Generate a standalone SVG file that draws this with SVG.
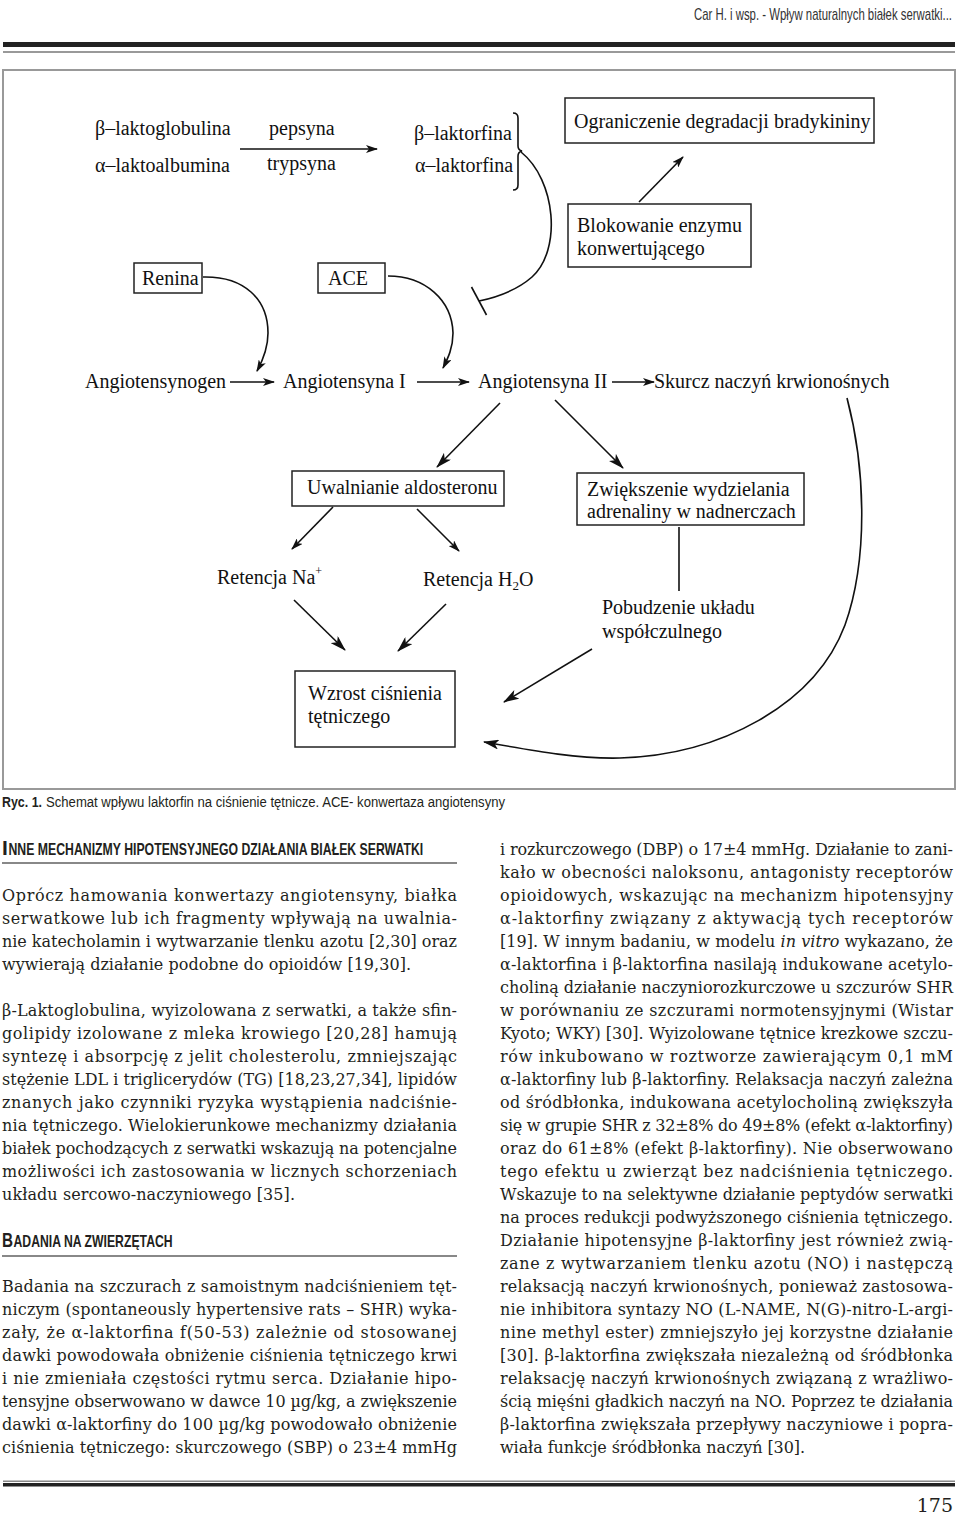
<svg xmlns="http://www.w3.org/2000/svg" width="960" height="1529" viewBox="0 0 960 1529">
<defs>
<style>
.hdr{font-family:"Liberation Sans",Arial,sans-serif;font-size:16px;fill:#333}
.d{font-family:"Liberation Serif","Times New Roman",serif;font-size:20px;fill:#111}
.box{fill:#fff;stroke:#222;stroke-width:1.5}
.ln{fill:none;stroke:#111;stroke-width:1.6}
.b{font-family:"DejaVu Serif",serif;font-size:16px;fill:#231f20}
.h{font-family:"Liberation Sans",Arial,sans-serif;font-weight:bold;fill:#231f20}
.cap{font-family:"Liberation Sans",Arial,sans-serif;font-size:15.5px;fill:#231f20}
</style>
<marker id="a" viewBox="0 0 12 8" refX="11" refY="4" markerWidth="12" markerHeight="8" markerUnits="userSpaceOnUse" orient="auto">
<path d="M0,0 L12,4 L0,8 L3,4 z" fill="#111"/>
</marker>
<marker id="aL" viewBox="0 0 16 10" refX="15" refY="5" markerWidth="16" markerHeight="10" markerUnits="userSpaceOnUse" orient="auto">
<path d="M0,0 L16,5 L0,10 L4,5 z" fill="#111"/>
</marker>
</defs>
<rect width="960" height="1529" fill="#fff"/>

<!-- page header -->
<g id="page-header">
<text class="hdr" transform="translate(952,20) scale(0.66,1)" x="0" y="0" text-anchor="end" textLength="391" lengthAdjust="spacingAndGlyphs">Car H. i wsp. - Wpływ naturalnych białek serwatki...</text>
<rect x="3" y="42" width="952" height="5" fill="#222"/>
<rect x="3" y="51" width="952" height="2" fill="#999"/>
</g>

<!-- diagram frame -->
<rect id="frame" x="3" y="70" width="952" height="719" fill="none" stroke="#999" stroke-width="2"/>

<g id="n-proteins"><text class="d" x="95" y="135">β–laktoglobulina</text><text class="d" x="95" y="172">α–laktoalbumina</text></g>
<g id="n-enzymes"><text class="d" x="269" y="135">pepsyna</text><text class="d" x="267" y="170">trypsyna</text></g>
<g id="n-laktorfiny"><text class="d" x="414" y="140">β–laktorfina</text><text class="d" x="415" y="172">α–laktorfina</text>
<path class="ln" stroke-width="1.3" d="M513,113 Q518,113 518,118 L518,146 Q518,150 522,151 Q518,152 518,156 L518,185 Q518,190 513,190"/></g>
<g id="n-ograniczenie"><rect class="box" x="565" y="98" width="309" height="45"/><text class="d" x="574" y="128">Ograniczenie degradacji bradykininy</text></g>
<g id="n-blokowanie"><rect class="box" x="568" y="204" width="183" height="63"/><text class="d" x="577" y="232">Blokowanie enzymu</text><text class="d" x="577" y="255">konwertującego</text></g>
<g id="n-renina"><rect class="box" x="134" y="263" width="68" height="30"/><text class="d" x="142" y="285">Renina</text></g>
<g id="n-ace"><rect class="box" x="318" y="263" width="67" height="30"/><text class="d" x="328" y="285">ACE</text></g>
<g id="n-angiotensynogen"><text class="d" x="85" y="388">Angiotensynogen</text></g>
<g id="n-angiotensyna1"><text class="d" x="283" y="388">Angiotensyna I</text></g>
<g id="n-angiotensyna2"><text class="d" x="478" y="388">Angiotensyna II</text></g>
<g id="n-skurcz"><text class="d" x="654" y="388">Skurcz naczyń krwionośnych</text></g>
<g id="n-uwalnianie"><rect class="box" x="292" y="471" width="212" height="35"/><text class="d" x="307" y="494">Uwalnianie aldosteronu</text></g>
<g id="n-zwiekszenie"><rect class="box" x="577" y="473" width="227" height="52"/><text class="d" x="587" y="496">Zwiększenie wydzielania</text><text class="d" x="587" y="518">adrenaliny w nadnerczach</text></g>
<g id="n-retencja-na"><text class="d" x="217" y="584">Retencja Na<tspan font-size="12" dy="-9">+</tspan></text></g>
<g id="n-retencja-h2o"><text class="d" x="423" y="586">Retencja H<tspan font-size="13" dy="4">2</tspan><tspan dy="-4">O</tspan></text></g>
<g id="n-pobudzenie"><text class="d" x="602" y="614">Pobudzenie układu</text><text class="d" x="602" y="638">współczulnego</text></g>
<g id="n-wzrost"><rect class="box" x="295" y="671" width="160" height="76"/><text class="d" x="308" y="700">Wzrost ciśnienia</text><text class="d" x="308" y="723">tętniczego</text></g>

<g id="connectors">
<line class="ln" x1="240" y1="149" x2="377" y2="149" marker-end="url(#a)"/>
<path class="ln" stroke-width="2.6" d="M521,152 C556,180 562,250 532,277 C516,291 498,297 479,301"/>
<line class="ln" stroke-width="2.6" x1="471.5" y1="287" x2="486.5" y2="315"/>
<line class="ln" x1="639" y1="202" x2="683" y2="157" marker-end="url(#a)"/>
<path class="ln" d="M203,277 C245,276 268,300 268,333 C268,348 263,360 257,371" marker-end="url(#a)"/>
<path class="ln" d="M388,276 C425,276 452,300 453,333 C453,348 448,358 443,368" marker-end="url(#a)"/>
<line class="ln" x1="230" y1="382" x2="274" y2="382" marker-end="url(#a)"/>
<line class="ln" x1="417" y1="382" x2="469" y2="382" marker-end="url(#a)"/>
<line class="ln" x1="612" y1="382" x2="654" y2="382" marker-end="url(#a)"/>
<line class="ln" x1="500" y1="403" x2="437" y2="467" marker-end="url(#aL)"/>
<line class="ln" x1="555" y1="400" x2="623" y2="468" marker-end="url(#aL)"/>
<line class="ln" x1="679" y1="527" x2="679" y2="591"/>
<line class="ln" x1="333" y1="507" x2="292" y2="549" marker-end="url(#a)"/>
<line class="ln" x1="417" y1="509" x2="459" y2="551" marker-end="url(#a)"/>
<line class="ln" x1="294" y1="600" x2="345" y2="650" marker-end="url(#aL)"/>
<line class="ln" x1="446" y1="604" x2="398" y2="651" marker-end="url(#aL)"/>
<line class="ln" x1="592" y1="649" x2="504" y2="702" marker-end="url(#aL)"/>
<path class="ln" d="M847,398 C866,470 868,560 845,625 C815,705 720,755 620,758 C580,759 540,752 484,742" marker-end="url(#aL)"/>
</g>

<!-- caption -->
<g id="caption">
<text class="cap" transform="translate(2,807) scale(0.72,1)" x="0" y="0" font-weight="bold" textLength="55.6" lengthAdjust="spacingAndGlyphs">Ryc. 1.</text>
<text class="cap" transform="translate(46,807) scale(0.76,1)" x="0" y="0" textLength="604" lengthAdjust="spacingAndGlyphs">Schemat wpływu laktorfin na ciśnienie tętnicze. ACE- konwertaza angiotensyny</text>
</g>

<!-- left column -->
<g id="heading-1">
<text class="h" x="2" y="855" font-size="21">I</text>
<text class="h" transform="translate(8.5,855) scale(0.72,1)" x="0" y="0" font-size="16" textLength="576" lengthAdjust="spacingAndGlyphs">NNE MECHANIZMY HIPOTENSYJNEGO DZIAŁANIA BIAŁEK SERWATKI</text>
<rect x="2" y="862" width="455" height="2" fill="#888"/>
</g>
<g id="left-text">
<text class="b" x="2" y="901" textLength="455" lengthAdjust="spacing">Oprócz hamowania konwertazy angiotensyny, białka</text>
<text class="b" x="2" y="924" textLength="455" lengthAdjust="spacing">serwatkowe lub ich fragmenty wpływają na uwalnia-</text>
<text class="b" x="2" y="947" textLength="455" lengthAdjust="spacing">nie katecholamin i wytwarzanie tlenku azotu [2,30] oraz</text>
<text class="b" x="2" y="970" textLength="409" lengthAdjust="spacing">wywierają działanie podobne do opioidów [19,30].</text>
<text class="b" x="2" y="1016" textLength="455" lengthAdjust="spacing">β-Laktoglobulina, wyizolowana z serwatki, a także sfin-</text>
<text class="b" x="2" y="1039" textLength="455" lengthAdjust="spacing">golipidy izolowane z mleka krowiego [20,28] hamują</text>
<text class="b" x="2" y="1062" textLength="455" lengthAdjust="spacing">syntezę i absorpcję z jelit cholesterolu, zmniejszając</text>
<text class="b" x="2" y="1085" textLength="455" lengthAdjust="spacing">stężenie LDL i triglicerydów (TG) [18,23,27,34], lipidów</text>
<text class="b" x="2" y="1108" textLength="455" lengthAdjust="spacing">znanych jako czynniki ryzyka wystąpienia nadciśnie-</text>
<text class="b" x="2" y="1131" textLength="455" lengthAdjust="spacing">nia tętniczego. Wielokierunkowe mechanizmy działania</text>
<text class="b" x="2" y="1154" textLength="455" lengthAdjust="spacing">białek pochodzących z serwatki wskazują na potencjalne</text>
<text class="b" x="2" y="1177" textLength="455" lengthAdjust="spacing">możliwości ich zastosowania w licznych schorzeniach</text>
<text class="b" x="2" y="1200" textLength="293" lengthAdjust="spacing">układu sercowo-naczyniowego [35].</text>
</g>
<g id="heading-2">
<text class="h" transform="translate(2,1247) scale(0.72,1)" x="0" y="0" font-size="21" textLength="15.3" lengthAdjust="spacingAndGlyphs">B</text>
<text class="h" transform="translate(13.5,1247) scale(0.72,1)" x="0" y="0" font-size="16" textLength="221" lengthAdjust="spacingAndGlyphs">ADANIA NA ZWIERZĘTACH</text>
<rect x="2" y="1255" width="455" height="2" fill="#888"/>
</g>
<g id="left-text-2">
<text class="b" x="2" y="1292" textLength="455" lengthAdjust="spacing">Badania na szczurach z samoistnym nadciśnieniem tęt-</text>
<text class="b" x="2" y="1315" textLength="455" lengthAdjust="spacing">niczym (spontaneously hypertensive rats – SHR) wyka-</text>
<text class="b" x="2" y="1338" textLength="455" lengthAdjust="spacing">zały, że α-laktorfina f(50-53) zależnie od stosowanej</text>
<text class="b" x="2" y="1361" textLength="455" lengthAdjust="spacing">dawki powodowała obniżenie ciśnienia tętniczego krwi</text>
<text class="b" x="2" y="1384" textLength="455" lengthAdjust="spacing">i nie zmieniała częstości rytmu serca. Działanie hipo-</text>
<text class="b" x="2" y="1407" textLength="455" lengthAdjust="spacing">tensyjne obserwowano w dawce 10 µg/kg, a zwiększenie</text>
<text class="b" x="2" y="1430" textLength="455" lengthAdjust="spacing">dawki α-laktorfiny do 100 µg/kg powodowało obniżenie</text>
<text class="b" x="2" y="1453" textLength="455" lengthAdjust="spacing">ciśnienia tętniczego: skurczowego (SBP) o 23±4 mmHg</text>
</g>

<!-- right column -->
<g id="right-text">
<text class="b" x="500" y="855" textLength="453" lengthAdjust="spacing">i rozkurczowego (DBP) o 17±4 mmHg. Działanie to zani-</text>
<text class="b" x="500" y="878" textLength="453" lengthAdjust="spacing">kało w obecności naloksonu, antagonisty receptorów</text>
<text class="b" x="500" y="901" textLength="453" lengthAdjust="spacing">opioidowych, wskazując na mechanizm hipotensyjny</text>
<text class="b" x="500" y="924" textLength="453" lengthAdjust="spacing">α-laktorfiny związany z aktywacją tych receptorów</text>
<text class="b" x="500" y="947" textLength="453" lengthAdjust="spacing">[19]. W innym badaniu, w modelu <tspan font-style="italic">in vitro</tspan> wykazano, że</text>
<text class="b" x="500" y="970" textLength="453" lengthAdjust="spacing">α-laktorfina i β-laktorfina nasilają indukowane acetylo-</text>
<text class="b" x="500" y="993" textLength="453" lengthAdjust="spacing">choliną działanie naczyniorozkurczowe u szczurów SHR</text>
<text class="b" x="500" y="1016" textLength="453" lengthAdjust="spacing">w porównaniu ze szczurami normotensyjnymi (Wistar</text>
<text class="b" x="500" y="1039" textLength="453" lengthAdjust="spacing">Kyoto; WKY) [30]. Wyizolowane tętnice krezkowe szczu-</text>
<text class="b" x="500" y="1062" textLength="453" lengthAdjust="spacing">rów inkubowano w roztworze zawierającym 0,1 mM</text>
<text class="b" x="500" y="1085" textLength="453" lengthAdjust="spacing">α-laktorfiny lub β-laktorfiny. Relaksacja naczyń zależna</text>
<text class="b" x="500" y="1108" textLength="453" lengthAdjust="spacing">od śródbłonka, indukowana acetylocholiną zwiększyła</text>
<text class="b" x="500" y="1131" textLength="453" lengthAdjust="spacing">się w grupie SHR z 32±8% do 49±8% (efekt α-laktorfiny)</text>
<text class="b" x="500" y="1154" textLength="453" lengthAdjust="spacing">oraz do 61±8% (efekt β-laktorfiny). Nie obserwowano</text>
<text class="b" x="500" y="1177" textLength="453" lengthAdjust="spacing">tego efektu u zwierząt bez nadciśnienia tętniczego.</text>
<text class="b" x="500" y="1200" textLength="453" lengthAdjust="spacing">Wskazuje to na selektywne działanie peptydów serwatki</text>
<text class="b" x="500" y="1223" textLength="453" lengthAdjust="spacing">na proces redukcji podwyższonego ciśnienia tętniczego.</text>
<text class="b" x="500" y="1246" textLength="453" lengthAdjust="spacing">Działanie hipotensyjne β-laktorfiny jest również zwią-</text>
<text class="b" x="500" y="1269" textLength="453" lengthAdjust="spacing">zane z wytwarzaniem tlenku azotu (NO) i następczą</text>
<text class="b" x="500" y="1292" textLength="453" lengthAdjust="spacing">relaksacją naczyń krwionośnych, ponieważ zastosowa-</text>
<text class="b" x="500" y="1315" textLength="453" lengthAdjust="spacing">nie inhibitora syntazy NO (L-NAME, N(G)-nitro-L-argi-</text>
<text class="b" x="500" y="1338" textLength="453" lengthAdjust="spacing">nine methyl ester) zmniejszyło jej korzystne działanie</text>
<text class="b" x="500" y="1361" textLength="453" lengthAdjust="spacing">[30]. β-laktorfina zwiększała niezależną od śródbłonka</text>
<text class="b" x="500" y="1384" textLength="453" lengthAdjust="spacing">relaksację naczyń krwionośnych związaną z wrażliwo-</text>
<text class="b" x="500" y="1407" textLength="453" lengthAdjust="spacing">ścią mięśni gładkich naczyń na NO. Poprzez te działania</text>
<text class="b" x="500" y="1430" textLength="453" lengthAdjust="spacing">β-laktorfina zwiększała przepływy naczyniowe i popra-</text>
<text class="b" x="500" y="1453" textLength="305" lengthAdjust="spacing">wiała funkcje śródbłonka naczyń [30].</text>
</g>

<!-- footer -->
<g id="page-footer">
<rect x="3" y="1480.5" width="952" height="1.5" fill="#888"/>
<rect x="3" y="1483" width="952" height="3.5" fill="#222"/>
<text x="953" y="1512" text-anchor="end" font-family="DejaVu Serif, serif" font-size="19" fill="#231f20">175</text>
</g>
</svg>
